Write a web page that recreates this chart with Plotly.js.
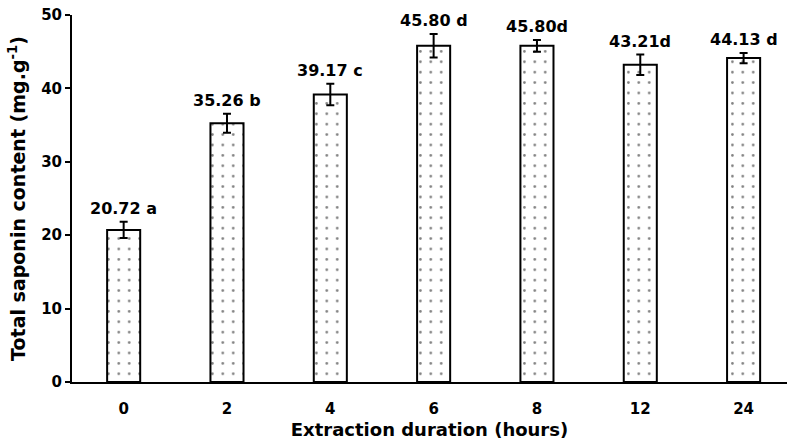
<!DOCTYPE html>
<html><head><meta charset="utf-8">
<script src="https://cdn.plot.ly/plotly-3.0.1.min.js"></script>
<style>html,body{margin:0;padding:0;background:#fff}#c{width:787px;height:441px}</style>
</head><body><div id="c"></div>
<script>
const categories = ["0","2","4","6","8","12","24"];
const values = [20.72, 35.26, 39.17, 45.80, 45.80, 43.21, 44.13];
const errors = [1.1, 1.3, 1.45, 1.6, 0.8, 1.4, 0.7];
const labels = ["20.72 a","35.26 b","39.17 c","45.80 d","45.80d","43.21d","44.13 d"];

const font = {family: "DejaVu Sans, Verdana, sans-serif", color: "#000"};
const trace = {
  type: "bar", x: categories, y: values, width: 0.32,
  marker: {color: "#fff", line: {color: "#000", width: 2},
    pattern: {shape: ".", fgcolor: "#000", bgcolor: "#fff", size: 10.4, solidity: 0.05, fillmode: "overlay"}},
  error_y: {type: "data", array: errors, visible: true, color: "#000", thickness: 2, width: 4},
  hoverinfo: "none"
};
const annotations = categories.map((c, i) => ({
  x: i, y: values[i] + errors[i], text: "<b>" + labels[i] + "</b>", showarrow: false,
  yanchor: "bottom", yshift: 2, font: Object.assign({size: 16}, font)
}));
const layout = {
  width: 787, height: 441, margin: {l: 72, r: 0, t: 15, b: 59},
  paper_bgcolor: "#fff", plot_bgcolor: "#fff", showlegend: false,
  font: font,
  xaxis: {type: "category", range: [-0.5, 6.42], showline: true, linecolor: "#000", linewidth: 2,
    ticks: "", ticklabelstandoff: 12, tickfont: Object.assign({size: 15, weight: "bold"}, font),
    title: {text: "<b>Extraction duration (hours)</b>", font: Object.assign({size: 18}, font), standoff: 6},
    showgrid: false, zeroline: false, fixedrange: true},
  yaxis: {range: [0, 50], dtick: 10, showline: true, linecolor: "#000", linewidth: 2,
    ticks: "outside", ticklen: 5, tickwidth: 2, tickcolor: "#000",
    tickfont: Object.assign({size: 15, weight: "bold"}, font),
    title: {text: "<b>Total saponin content (mg.g<sup>-1</sup>)</b>", font: Object.assign({size: 19}, font), standoff: 10},
    showgrid: false, zeroline: false, fixedrange: true},
  annotations: annotations
};
Plotly.newPlot("c", [trace], layout, {staticPlot: true, displayModeBar: false});
</script></body></html>
